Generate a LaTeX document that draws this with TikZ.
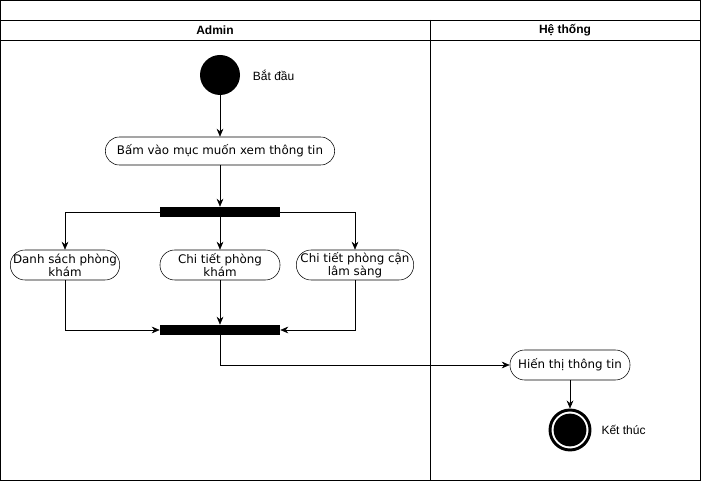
\documentclass[tikz,border=0pt]{standalone}
\usepackage{fontspec}
\setmainfont{DejaVu Sans}
\newfontfamily\lanefont{Liberation Sans}
\usetikzlibrary{arrows.meta,positioning}

\tikzset{
  act/.style={draw,rounded corners=11pt,minimum height=22.5pt,inner sep=1pt,
    align=center,font=\fontsize{8.9}{9.6}\selectfont},
  bar/.style={fill=black,minimum width=90pt,minimum height=7.5pt,inner sep=0pt},
  startst/.style={circle,fill=black,minimum size=30pt,inner sep=0pt},
  endst/.style={circle,draw,line width=2.2pt,minimum size=30pt,inner sep=0pt,
    path picture={\fill (path picture bounding box.center) circle (12.3pt);}},
  lbl/.style={font=\lanefont\fontsize{9}{10}\selectfont},
  flow/.style={-{Stealth[length=6pt,width=5pt]}}
}

\begin{document}
\begin{tikzpicture}[x=0.75pt,y=-0.75pt]
    \useasboundingbox (0,0) rectangle (701,481);
    % swimlanes
    \draw (0.5,0.5) rectangle (700,480);
    \draw (0.5,20) -- (700,20);
    \draw (0.5,40) -- (700,40);
    \draw (430,20) -- (430,480);
    \node[lbl,font=\lanefont\bfseries\fontsize{9}{10}\selectfont](admin)at(215,30){Admin};
    \node[lbl,font=\lanefont\bfseries\fontsize{9}{10}\selectfont](hethong)at(565,30){Hệ thống};

    \node[startst](start)at(220,75){};
    \node[lbl,right=6pt of start](startlbl){Bắt đầu};
    \node[act,minimum width=172pt,minimum height=21pt,rounded corners=10.5pt](bam)at(220,151){Bấm vào mục muốn xem thông tin};
    \node[bar](fork)at(220,212){};
    \node[act,minimum width=82pt](ds)at(65,265){Danh sách phòng\\khám};
    \node[act,minimum width=90pt](ct)at(220,265){Chi tiết phòng\\khám};
    \node[act,minimum width=88pt](cls)at(355,265){Chi tiết phòng cận\\lâm sàng};
    \node[bar](join)at(220,330){};
    \node[act,minimum width=90pt](hien)at(570,365){Hiến thị thông tin};
    \node[endst](end)at(570,430){};
    \node[lbl,right=4pt of end](endlbl){Kết thúc};

    \draw[flow] (start) to (bam);
    \draw[flow] (bam) to (fork);
    \draw[flow] (fork.west) -| (ds.north);
    \draw[flow] (fork) to (ct);
    \draw[flow] (fork.east) -| (cls.north);
    \draw[flow] (ds.south) |- (join.west);
    \draw[flow] (ct) to (join);
    \draw[flow] (cls.south) |- (join.east);
    \draw[flow] (join.south) |- (hien.west);
    \draw[flow] (hien) to (end);
  \end{tikzpicture}
\end{document}
